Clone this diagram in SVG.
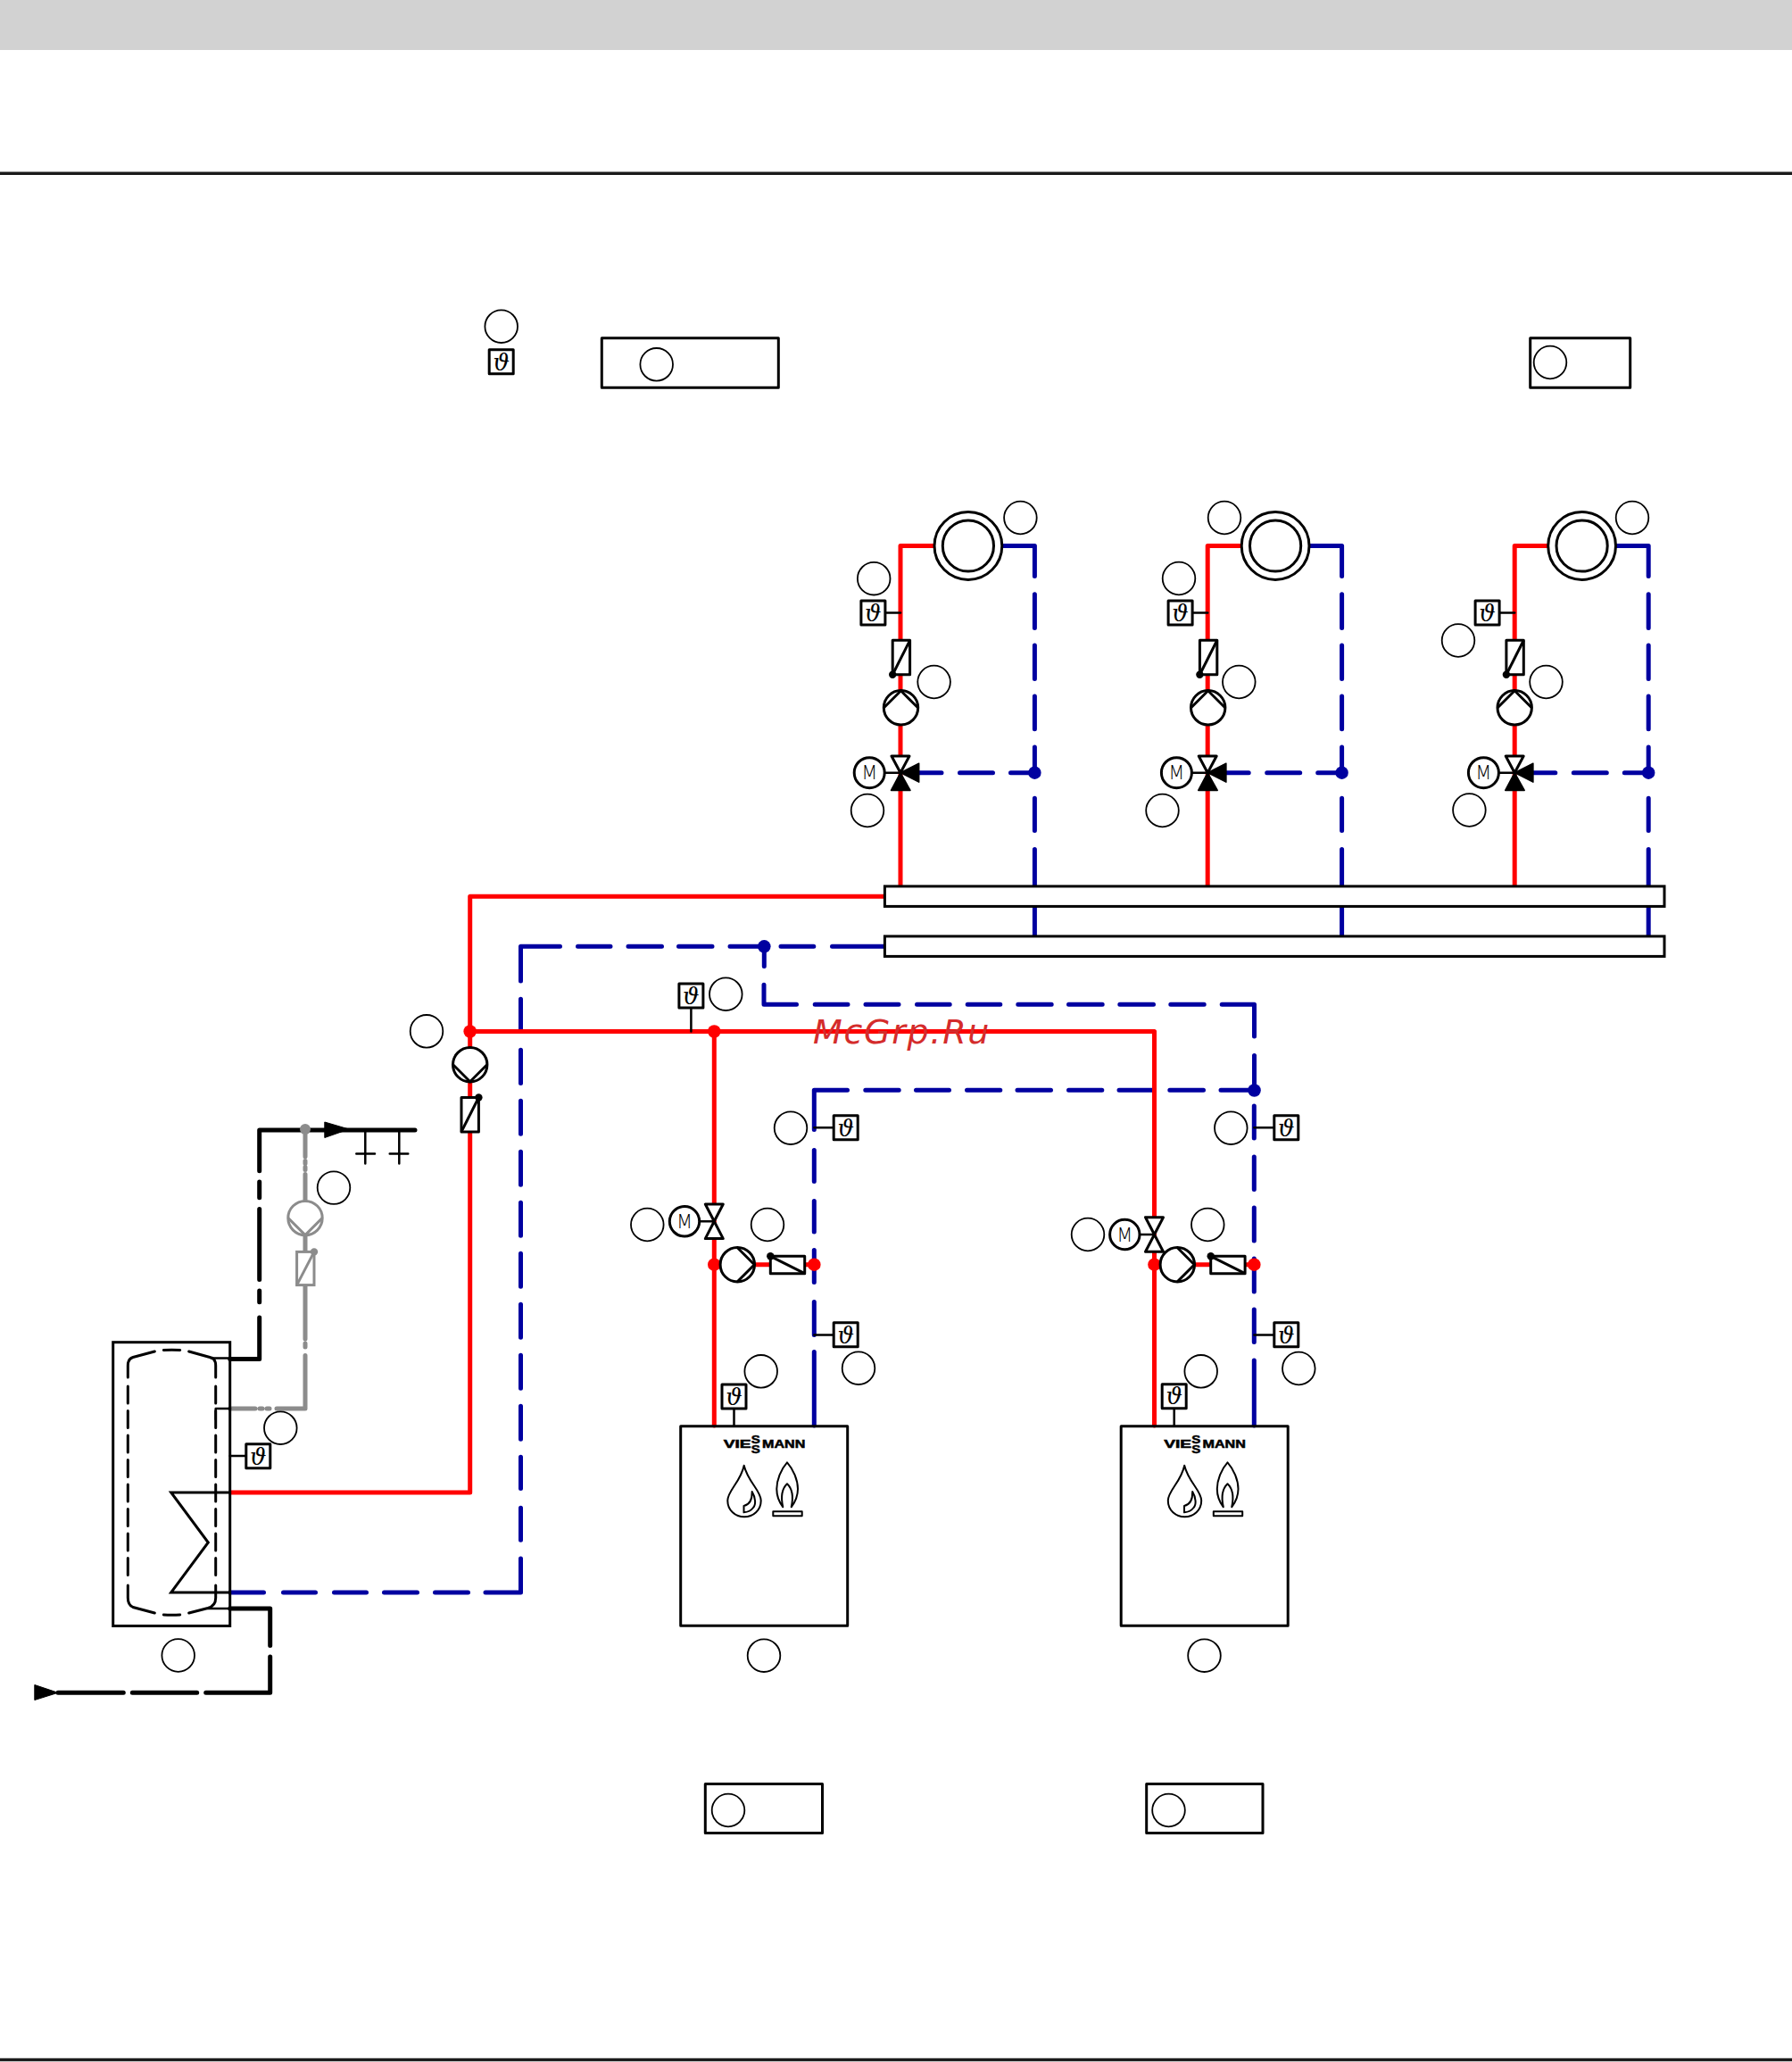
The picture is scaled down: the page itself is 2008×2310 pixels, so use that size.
<svg xmlns="http://www.w3.org/2000/svg" xmlns:xlink="http://www.w3.org/1999/xlink" width="2008" height="2310" viewBox="0 0 2008 2310">
<style>
.pipe{fill:none;stroke-width:5;stroke-linecap:round;stroke-linejoin:round}
.red{stroke:#ff0000}.blue{stroke:#0000a0}.blk{stroke:#000}.gry{stroke:#8c8c8c}
.thin{fill:none;stroke:#000;stroke-width:2.5;stroke-linecap:round;stroke-linejoin:round}
.sym{fill:#fff;stroke:#000;stroke-width:3;stroke-linejoin:round}
.lab{fill:#fff;stroke:#000;stroke-width:1.8}
.box{fill:none;stroke:#000;stroke-width:3;stroke-linejoin:round}
.logo{fill:none;stroke:#000;stroke-width:2;stroke-linejoin:round}
.th{font-family:"DejaVu Serif",serif;font-style:italic;font-size:26px;text-anchor:middle;fill:#000}
.m{font-family:"DejaVu Sans",sans-serif;font-weight:200;font-size:21px;text-anchor:middle;fill:#000}
.vi{font-family:"Liberation Sans",sans-serif;font-weight:bold;font-size:12px;fill:#000;stroke:#000;stroke-width:.5}
.wm{font-family:"DejaVu Sans",sans-serif;font-style:italic;font-size:38px;letter-spacing:1.7px;fill:#d42c2c}
</style>
<defs>
<g id="sensor"><rect x="-13.5" y="-13.5" width="27" height="27" class="sym"/></g>
<g id="pump"><circle r="19.2" class="sym"/><path d="M-19 0L0-19L19 0" fill="none" stroke="#000" stroke-width="3"/></g>
<g id="meter"><rect x="-9.7" y="-19.2" width="19.4" height="38.4" class="sym"/><path d="M9.7-19.2L-9.7 19.2" stroke="#000" stroke-width="3"/><circle cx="-9.7" cy="19.2" r="4.2" fill="#000"/></g>
<g id="valve"><path d="M-10-19.3H10L0 0ZM-10 19.3H10L0 0Z" class="sym"/></g>
<g id="mixer"><path d="M-10-18.7H10L0 0Z" class="sym"/><path d="M0 0L-10.5 19.7H11ZM0 0L20.7-10.5V10.5Z" fill="#000" stroke="#000" stroke-width="1.5" stroke-linejoin="round"/></g>
<g id="gpump"><circle r="19.2" fill="#fff" stroke="#8c8c8c" stroke-width="3"/><path d="M-19 0L0 19L19 0" fill="none" stroke="#8c8c8c" stroke-width="3"/></g>
<g id="gmeter"><rect x="-9.7" y="-18.6" width="19.4" height="37.2" fill="#fff" stroke="#8c8c8c" stroke-width="3"/><path d="M9.7-18.6L-9.7 18.6" stroke="#8c8c8c" stroke-width="3"/><circle cx="9.7" cy="-18.6" r="4.2" fill="#8c8c8c"/></g>
</defs>
<rect width="2008" height="2310" fill="#fff"/>
<g id="page-frame">
<rect x="0" y="0" width="2008" height="56" fill="#d2d2d2"/>
<path d="M0 194.3H2008M0 2307.5H2008" stroke="#1a1a1a" stroke-width="3.6"/>
</g>
<g id="connectors">
<path class="pipe blue" d="M1122 611.5H1159.4V645.5M1159.4 665.7V703.5M1159.4 722.9V760.5M1159.4 780V816.8M1159.4 837.1V865.7M1159.4 894.3V930.5M1159.4 951.5V993M1159.4 1015V1048.5M1159.4 865.7H1132.5M1112.5 865.7H1075.5M1055 865.7H1030"/>
<path class="pipe blue" d="M1466.2 611.5H1503.6V645.5M1503.6 665.7V703.5M1503.6 722.9V760.5M1503.6 780V816.8M1503.6 837.1V865.7M1503.6 894.3V930.5M1503.6 951.5V993M1503.6 1015V1048.5M1503.6 865.7H1476.7M1456.7 865.7H1419.7M1399.2 865.7H1374.2"/>
<path class="pipe blue" d="M1809.8 611.5H1847.2V645.5M1847.2 665.7V703.5M1847.2 722.9V760.5M1847.2 780V816.8M1847.2 837.1V865.7M1847.2 894.3V930.5M1847.2 951.5V993M1847.2 1015V1048.5M1847.2 865.7H1820.3M1800.3 865.7H1763.3M1742.8 865.7H1717.8"/>
<path class="pipe blue" d="M991 1060.3H932.5M911.8 1060.3H875M856.3 1060.3H818M798 1060.3H760.5M741.5 1060.3H704M684 1060.3H647.5M627.5 1060.3H583.5V1099M583.5 1119.2V1155.5M583.5 1176.2V1213.5M583.5 1233.2V1270.2M583.5 1290.2V1327.2M583.5 1347.2V1384.2M583.5 1404.2V1441.2M583.5 1461.2V1498.2M583.5 1518.2V1555.2M583.5 1575.2V1612.2M583.5 1632.2V1667.5M583.5 1689.2V1725.2M583.5 1746V1784H544M524.5 1784H487.5M467.5 1784H430.5M410.5 1784H374.5M353.5 1784H317.5M295.5 1784H258"/>
<path class="pipe blue" d="M856.3 1060.3V1082.5M856 1103.2V1125.3H892.5M913.2 1125.3H950M970 1125.3H1007M1027.5 1125.3H1064.2M1084.2 1125.3H1120.8M1140.8 1125.3H1178.2M1197.5 1125.3H1235.2M1254.8 1125.3H1292.5M1311.8 1125.3H1349.2M1369.2 1125.3H1405.5V1161M1405.5 1182.5V1221.5"/>
<path class="pipe blue" d="M912.3 1265.5V1221.3H949.5M969.8 1221.3H1007.2M1026.5 1221.3H1063.5M1083.5 1221.3H1120.8M1140 1221.3H1177.5M1197.5 1221.3H1234.8M1254 1221.3H1291.5M1310.8 1221.3H1348.5M1368 1221.3H1405.5"/>
<path class="pipe blue" d="M912.3 1288.5V1323.5M912.3 1345.5V1380M912.3 1400.5V1436.5M912.3 1458.5V1495.5M912.3 1514.5V1597"/>
<path class="pipe blue" d="M1405.3 1239V1275M1405.3 1296V1332.5M1405.3 1353V1390M1405.3 1410V1447M1405.3 1467V1503.5M1405.3 1524V1597"/>
<path class="pipe red" d="M1050 611.5H1009V992M1394 611.5H1353.2V992M1738 611.5H1697.2V992"/>
<path class="pipe red" d="M991 1004.3H526.7V1672H259M526.7 1155.5H1293.5V1597M800.3 1155.5V1597M800.3 1416.7H912.3M1293.5 1416.7H1405.3"/>
<path class="pipe blk" d="M257.7 1522.6H290.7V1476M290.7 1458.7V1446M290.7 1433.5V1354.5M290.7 1341.7V1324M290.7 1311.8V1266H465"/>
<path class="pipe blk" d="M257.7 1802H302.7V1843.5M302.7 1856V1896.3H230.7M220.7 1896.3H148.3M138.3 1896.3H65"/>
<path class="pipe gry" d="M342 1266V1295.8M342 1300.5V1303.5M342 1307.5V1310.5M342 1315.5V1346M342 1384V1402M342 1440V1500M342 1505V1509M342 1518.4V1578H310M302 1578H299M294 1578H291M286 1578H257.7"/>
<path class="thin" d="M409.3 1266V1303.6M399.3 1292.5H420M447.3 1266V1303.6M436.7 1292.5H457.3"/>
<path class="thin" d="M236.7 1521.6H258M241.7 1590V1578H258M233 1802H258M257.7 1631H276M774.4 1129V1155.5M912.3 1263.2H934.3M912.3 1495.4H934.3M1405.3 1263.2H1427.7M1405.3 1495.4H1427.7M822.5 1578V1597.7M1315.7 1577.7V1597.7"/>
<path fill="#000" stroke="#000" stroke-linejoin="round" d="M363.8 1257L391 1265L363.8 1274.5ZM38.8 1887.5L65 1896.3L38.8 1904.5Z"/>
<circle cx="342" cy="1265" r="6" fill="#8c8c8c"/>
<g fill="#ff0000"><circle cx="526.7" cy="1155.5" r="7.3"/><circle cx="800.3" cy="1155.5" r="7.3"/><circle cx="800.3" cy="1416.7" r="7.3"/><circle cx="912.3" cy="1416.7" r="7.3"/><circle cx="1293.5" cy="1416.7" r="7.3"/><circle cx="1405.3" cy="1416.7" r="7.3"/></g>
<g fill="#0000a0"><circle cx="1159.4" cy="865.7" r="7.2"/><circle cx="1503.6" cy="865.7" r="7.2"/><circle cx="1847.2" cy="865.7" r="7.2"/><circle cx="856.3" cy="1060.3" r="7.3"/><circle cx="1405.5" cy="1221.5" r="7.3"/></g>
</g>
<g id="control-top">
<circle class="lab" cx="561.7" cy="365.7" r="18.3"/>
<use xlink:href="#sensor" href="#sensor" x="561.7" y="405.3"/><text class="th" x="561.7" y="414.5">ϑ</text>
</g>
<g id="controller-a"><rect class="box" x="674.3" y="378.7" width="198" height="55.6"/><circle class="lab" cx="735.7" cy="408.3" r="18.3"/></g>
<g id="controller-b"><rect class="box" x="1714.7" y="378.7" width="112" height="55.6"/><circle class="lab" cx="1737" cy="406" r="18.3"/></g>
<g id="controller-c"><rect class="box" x="790.3" y="1998.5" width="131.2" height="55.1"/><circle class="lab" cx="816" cy="2028" r="18.3"/></g>
<g id="controller-d"><rect class="box" x="1284.7" y="1998.5" width="130.3" height="55.1"/><circle class="lab" cx="1309.5" cy="2028" r="18.3"/></g>
<g id="circuit-1">
<circle cx="1084.9" cy="611.5" r="37.9" class="sym" stroke-width="3.5"/><circle cx="1084.9" cy="611.5" r="28.6" class="sym"/>
<path class="thin" d="M992 686.5H1009"/>
<use xlink:href="#sensor" href="#sensor" x="978.4" y="686.5"/><text class="th" x="978.4" y="695.7">ϑ</text>
<use xlink:href="#meter" href="#meter" x="1009.9" y="736.5"/>
<use xlink:href="#pump" href="#pump" x="1009.5" y="792.8"/>
<path class="thin" d="M991.9 865.7H1009"/>
<use xlink:href="#mixer" href="#mixer" x="1009" y="865.7"/>
<circle cx="974.2" cy="865.7" r="17" class="sym"/><text class="m" x="974.2" y="873.3">M</text>
<circle class="lab" cx="1143.4" cy="580" r="18.3"/><circle class="lab" cx="979.2" cy="648.2" r="18.3"/><circle class="lab" cx="1046.6" cy="764" r="18.3"/><circle class="lab" cx="972" cy="908" r="18.3"/>
</g>
<g id="circuit-2" transform="translate(344.2 0)">
<circle cx="1084.9" cy="611.5" r="37.9" class="sym" stroke-width="3.5"/><circle cx="1084.9" cy="611.5" r="28.6" class="sym"/>
<path class="thin" d="M992 686.5H1009"/>
<use xlink:href="#sensor" href="#sensor" x="978.4" y="686.5"/><text class="th" x="978.4" y="695.7">ϑ</text>
<use xlink:href="#meter" href="#meter" x="1009.9" y="736.5"/>
<use xlink:href="#pump" href="#pump" x="1009.5" y="792.8"/>
<path class="thin" d="M991.9 865.7H1009"/>
<use xlink:href="#mixer" href="#mixer" x="1009" y="865.7"/>
<circle cx="974.2" cy="865.7" r="17" class="sym"/><text class="m" x="974.2" y="873.3">M</text>
<circle class="lab" cx="1027.8" cy="580" r="18.3"/><circle class="lab" cx="976.8" cy="648" r="18.3"/><circle class="lab" cx="1044.1" cy="764" r="18.3"/><circle class="lab" cx="958.3" cy="908" r="18.3"/>
</g>
<g id="circuit-3" transform="translate(688.2 0)">
<circle cx="1084.4" cy="611.5" r="37.9" class="sym" stroke-width="3.5"/><circle cx="1084.4" cy="611.5" r="28.6" class="sym"/>
<path class="thin" d="M992 686.5H1009"/>
<use xlink:href="#sensor" href="#sensor" x="978.4" y="686.5"/><text class="th" x="978.4" y="695.7">ϑ</text>
<use xlink:href="#meter" href="#meter" x="1009.4" y="736.5"/>
<use xlink:href="#pump" href="#pump" x="1009" y="792.8"/>
<path class="thin" d="M991.9 865.7H1009"/>
<use xlink:href="#mixer" href="#mixer" x="1009" y="865.7"/>
<circle cx="974.2" cy="865.7" r="17" class="sym"/><text class="m" x="974.2" y="873.3">M</text>
<circle class="lab" cx="1140.8" cy="580" r="18.3"/><circle class="lab" cx="945.8" cy="717.5" r="18.3"/><circle class="lab" cx="1044.3" cy="764" r="18.3"/><circle class="lab" cx="958.2" cy="907.5" r="18.3"/>
</g>
<g id="manifold-flow"><rect x="991.4" y="992.9" width="873.6" height="22.5" fill="#fff" stroke="#000" stroke-width="3"/></g>
<g id="manifold-return"><rect x="991.4" y="1048.9" width="873.6" height="22.5" fill="#fff" stroke="#000" stroke-width="3"/></g>
<g id="main-pump">
<circle class="lab" cx="478" cy="1155.3" r="18.3"/>
<use xlink:href="#pump" href="#pump" transform="translate(526.7 1192.7) rotate(180)"/>
<use xlink:href="#meter" href="#meter" transform="translate(526.7 1248.7) rotate(180)"/>
<use xlink:href="#sensor" href="#sensor" x="774.4" y="1115.4"/><text class="th" x="774.4" y="1124.6">ϑ</text>
<circle class="lab" cx="813.3" cy="1113.7" r="18.3"/>
</g>
<g id="boiler-1">
<rect class="box" x="762.7" y="1597.7" width="187" height="223.6" fill="#fff" stroke-width="4"/>
<text class="vi" x="810.7" y="1622" textLength="31" lengthAdjust="spacingAndGlyphs">VIE</text>
<text class="vi" x="841.7" y="1617.3" textLength="10" lengthAdjust="spacingAndGlyphs">S</text>
<text class="vi" x="841.7" y="1627.7" textLength="10" lengthAdjust="spacingAndGlyphs">S</text>
<text class="vi" x="854" y="1622" textLength="48.3" lengthAdjust="spacingAndGlyphs">MANN</text>
<path class="logo" d="M833.7 1641.7C830 1660 815.3 1670 815.3 1681C815.3 1692 824 1699.3 834 1699.3C844 1699.3 852.7 1692 852.7 1681C852.7 1670 838 1660 833.7 1641.7Z"/>
<path class="logo" d="M842.7 1671C847 1678 847 1686 844 1689C841 1693 837 1694 833.5 1694.3V1687C838 1686 843 1682 842.7 1671Z"/>
<path class="logo" d="M882 1638.3C875 1646 870.3 1658 870.3 1668C870.3 1677 874 1684 877.3 1688.3C875 1678 876 1668 882 1662.3C888 1668 889 1678 886.7 1688.3C890 1684 894 1677 894 1668C894 1658 889 1646 882 1638.3Z"/>
<rect class="logo" x="866.3" y="1693.3" width="32.4" height="5"/>
<use xlink:href="#sensor" href="#sensor" x="822.5" y="1564.5"/><text class="th" x="822.5" y="1573.7">ϑ</text>
<circle class="lab" cx="852.7" cy="1536.3" r="18.3"/><circle class="lab" cx="962" cy="1532.7" r="18.3"/><circle class="lab" cx="856" cy="1854.7" r="18.3"/>
</g>
<g id="boiler-group-1">
<use xlink:href="#valve" href="#valve" x="800.3" y="1368.3"/>
<path class="thin" d="M783.7 1368.3H800"/>
<circle cx="767" cy="1368.3" r="16.7" class="sym"/><text class="m" x="767" y="1375.9">M</text>
<use xlink:href="#pump" href="#pump" transform="translate(826.3 1416.7) rotate(90)"/>
<use xlink:href="#meter" href="#meter" transform="translate(882.5 1417) rotate(90)"/>
<use xlink:href="#sensor" href="#sensor" x="947.7" y="1263.3"/><text class="th" x="947.7" y="1272.5">ϑ</text>
<use xlink:href="#sensor" href="#sensor" x="947.7" y="1495.3"/><text class="th" x="947.7" y="1504.5">ϑ</text>
<circle class="lab" cx="725.3" cy="1372" r="18.3"/><circle class="lab" cx="860" cy="1372" r="18.3"/><circle class="lab" cx="886" cy="1263.7" r="18.3"/>
</g>
<g id="boiler-2">
<rect class="box" x="1256.2" y="1597.7" width="187" height="223.6" fill="#fff" stroke-width="4"/>
<text class="vi" x="1304.2" y="1622" textLength="31" lengthAdjust="spacingAndGlyphs">VIE</text>
<text class="vi" x="1335.2" y="1617.3" textLength="10" lengthAdjust="spacingAndGlyphs">S</text>
<text class="vi" x="1335.2" y="1627.7" textLength="10" lengthAdjust="spacingAndGlyphs">S</text>
<text class="vi" x="1347.5" y="1622" textLength="48.3" lengthAdjust="spacingAndGlyphs">MANN</text>
<g transform="translate(493.5 0)">
<path class="logo" d="M833.7 1641.7C830 1660 815.3 1670 815.3 1681C815.3 1692 824 1699.3 834 1699.3C844 1699.3 852.7 1692 852.7 1681C852.7 1670 838 1660 833.7 1641.7Z"/>
<path class="logo" d="M842.7 1671C847 1678 847 1686 844 1689C841 1693 837 1694 833.5 1694.3V1687C838 1686 843 1682 842.7 1671Z"/>
<path class="logo" d="M882 1638.3C875 1646 870.3 1658 870.3 1668C870.3 1677 874 1684 877.3 1688.3C875 1678 876 1668 882 1662.3C888 1668 889 1678 886.7 1688.3C890 1684 894 1677 894 1668C894 1658 889 1646 882 1638.3Z"/>
<rect class="logo" x="866.3" y="1693.3" width="32.4" height="5"/>
</g>
<use xlink:href="#sensor" href="#sensor" x="1315.7" y="1564.2"/><text class="th" x="1315.7" y="1573.4">ϑ</text>
<circle class="lab" cx="1345.7" cy="1536.3" r="18.3"/><circle class="lab" cx="1455.3" cy="1533" r="18.3"/><circle class="lab" cx="1349.5" cy="1854.7" r="18.3"/>
</g>
<g id="boiler-group-2">
<use xlink:href="#valve" href="#valve" x="1293.5" y="1383"/>
<path class="thin" d="M1277 1383H1293.5"/>
<circle cx="1260.3" cy="1383" r="16.7" class="sym"/><text class="m" x="1260.3" y="1390.6">M</text>
<use xlink:href="#pump" href="#pump" transform="translate(1319.3 1416.7) rotate(90)"/>
<use xlink:href="#meter" href="#meter" transform="translate(1375.9 1417) rotate(90)"/>
<use xlink:href="#sensor" href="#sensor" x="1441.3" y="1263.3"/><text class="th" x="1441.3" y="1272.5">ϑ</text>
<use xlink:href="#sensor" href="#sensor" x="1441.3" y="1495.3"/><text class="th" x="1441.3" y="1504.5">ϑ</text>
<circle class="lab" cx="1219" cy="1383" r="18.3"/><circle class="lab" cx="1353.3" cy="1372" r="18.3"/><circle class="lab" cx="1379.3" cy="1263.7" r="18.3"/>
</g>
<g id="storage-tank">
<rect x="126.7" y="1503.7" width="131" height="317.8" fill="none" stroke="#000" stroke-width="3"/>
<path fill="none" stroke="#000" stroke-width="3" stroke-linecap="round" d="M143.3 1543V1530Q143.3 1522 149 1520.5L173.3 1514M183.3 1512.5Q192.5 1511.8 201.7 1512.5M211.7 1514L236 1520.7Q241.7 1522 241.7 1530V1543M143.3 1776V1790Q143.3 1798 149 1800.5L173.3 1807M183.3 1809Q192.5 1809.7 201.7 1809M211.7 1807L233 1801.5Q241.7 1799 241.7 1790V1776"/>
<path fill="none" stroke="#000" stroke-width="3" stroke-linecap="round" stroke-dasharray="19 8.5" d="M143.3 1553V1768M241.7 1553V1768"/>
<path fill="none" stroke="#000" stroke-width="3" stroke-linejoin="miter" d="M259 1672H191.7L233.3 1728L191.7 1784H259"/>
<use xlink:href="#sensor" href="#sensor" x="289.3" y="1631.3"/><text class="th" x="289.3" y="1640.5">ϑ</text>
<circle class="lab" cx="314.3" cy="1599.7" r="18.3"/><circle class="lab" cx="199.7" cy="1854.5" r="18.3"/>
</g>
<g id="circulation-pump">
<use xlink:href="#gpump" href="#gpump" x="342" y="1364.6"/>
<use xlink:href="#gmeter" href="#gmeter" x="342.3" y="1421"/>
<circle class="lab" cx="374" cy="1330.6" r="18.3"/>
</g>
<text class="wm" x="911" y="1169.3">McGrp.Ru</text>
</svg>
